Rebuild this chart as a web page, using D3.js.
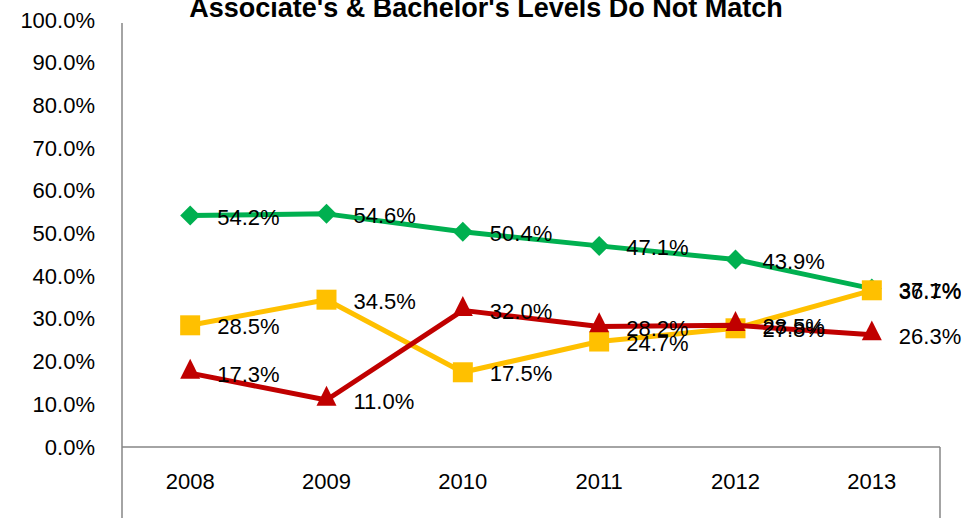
<!DOCTYPE html>
<html>
<head>
<meta charset="utf-8">
<script src="https://cdn.jsdelivr.net/npm/d3@7"></script>
<style>
  body { margin: 0; background: #fff; }
  text { font-family: "Liberation Sans", Arial, sans-serif; }
</style>
</head>
<body>
<div id="chart"></div>
<script>
// data
var years = ["2008", "2009", "2010", "2011", "2012", "2013"];
var greenVals = [54.2, 54.6, 50.4, 47.1, 43.9, 37.1];
var yellowVals = [28.5, 34.5, 17.5, 24.7, 27.8, 36.7];
var redVals = [17.3, 11.0, 32.0, 28.2, 28.5, 26.3];
var yTicks = [0, 10, 20, 30, 40, 50, 60, 70, 80, 90, 100];
var titleText = "Associate's & Bachelor's Levels Do Not Match";

var width = 975, height = 518;
var plotLeft = 122, plotRight = 940, plotTop = 20, plotBottom = 447;

var svg = d3.select("#chart").append("svg")
    .attr("width", width)
    .attr("height", height);

var x = d3.scaleBand()
    .domain(years)
    .range([plotLeft, plotRight]);

var y = d3.scaleLinear()
    .domain([0, 100])
    .range([plotBottom, plotTop]);

// title (cut off at the top in the original)
svg.append("text")
    .attr("x", 486)
    .attr("y", 17)
    .attr("text-anchor", "middle")
    .attr("font-weight", "bold")
    .attr("font-size", 27)
    .text(titleText);

// y axis
var yAxis = svg.append("g")
    .attr("transform", "translate(" + plotLeft + ",0)")
    .call(d3.axisLeft(y).tickValues(yTicks).tickSize(0).tickPadding(27)
        .tickFormat(function(d) { return d.toFixed(1) + "%"; }));
yAxis.select(".domain").remove();
yAxis.selectAll("text")
    .attr("font-size", 22)
    .attr("fill", "#000")
    .style("font-family", "'Liberation Sans', Arial, sans-serif");

// axis frame lines
svg.append("line")
    .attr("x1", plotLeft).attr("x2", plotLeft)
    .attr("y1", y(100) + 3).attr("y2", height)
    .attr("stroke", "#868686").attr("stroke-width", 1.5);
svg.append("line")
    .attr("x1", plotLeft).attr("x2", plotRight)
    .attr("y1", y(0)).attr("y2", y(0))
    .attr("stroke", "#868686").attr("stroke-width", 1.5);
svg.append("line")
    .attr("x1", plotRight).attr("x2", plotRight)
    .attr("y1", y(0)).attr("y2", height)
    .attr("stroke", "#868686").attr("stroke-width", 1.5);

// x labels
svg.append("g").selectAll("text")
    .data(years)
  .enter().append("text")
    .attr("x", function(d) { return x(d) + x.bandwidth() / 2; })
    .attr("y", 489)
    .attr("text-anchor", "middle")
    .attr("font-size", 22)
    .text(function(d) { return d; });

// marker shapes: diamond is a rotated square, triangle stretched a bit
var series = [
  {name: "green", vals: greenVals, color: "#00B050", shape: d3.symbolSquare, size: 200, extra: ",rotate(45)"},
  {name: "yellow", vals: yellowVals, color: "#FFC000", shape: d3.symbolSquare, size: 400, extra: ""},
  {name: "red", vals: redVals, color: "#C00000", shape: d3.symbolTriangle, size: 173, extra: ",translate(0,-1),scale(1,1.15)"}
];

var line = d3.line()
    .x(function(d, i) { return x(years[i]) + x.bandwidth() / 2; })
    .y(function(d) { return y(d); });

series.forEach(function(s) {
  var g = svg.append("g");
  g.append("path")
    .attr("fill", "none")
    .attr("stroke", s.color)
    .attr("stroke-width", 5)
    .attr("stroke-linejoin", "round")
    .attr("d", line(s.vals));

  g.selectAll("path.mark")
    .data(s.vals)
  .enter().append("path")
    .attr("class", "mark")
    .attr("fill", s.color)
    .attr("transform", function(d, i) {
      return "translate(" + (x(years[i]) + x.bandwidth() / 2) + "," + y(d) + ")" + s.extra;
    })
    .attr("d", d3.symbol().type(s.shape).size(s.size));
});

// data labels on top
series.forEach(function(s) {
  svg.append("g").selectAll("text")
    .data(s.vals)
  .enter().append("text")
    .attr("x", function(d, i) { return x(years[i]) + x.bandwidth() / 2 + 27; })
    .attr("y", function(d) { return y(d) + 9; })
    .attr("font-size", 22)
    .text(function(d) { return d.toFixed(1) + "%"; });
});
</script>
</body>
</html>
